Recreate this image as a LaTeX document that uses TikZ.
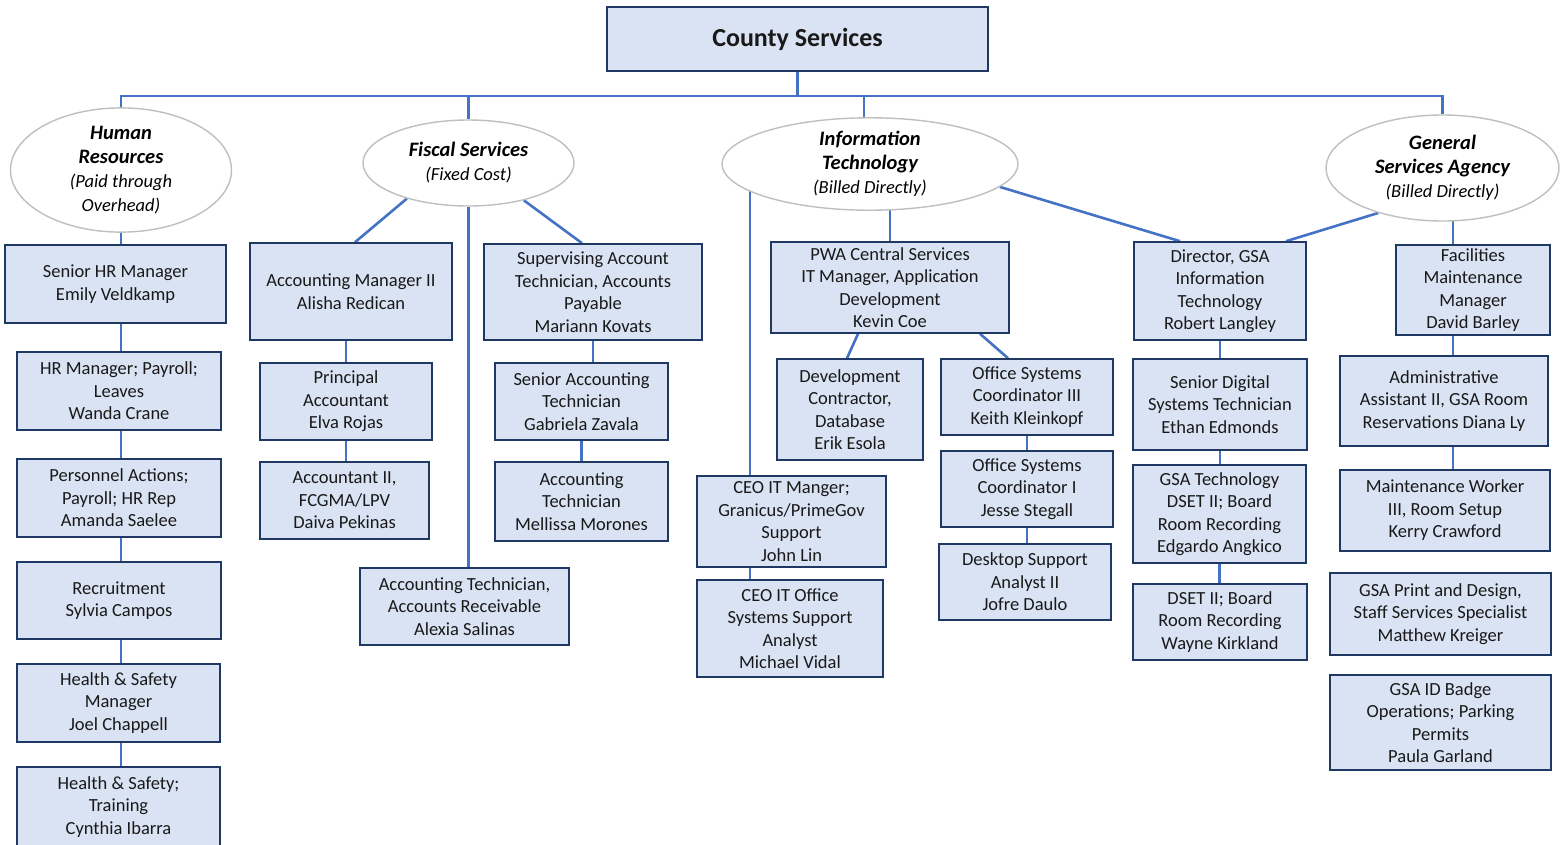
\documentclass[tikz,border=0pt]{standalone}
\usepackage{fontspec}
\setmainfont{Carlito}
\usetikzlibrary{shapes.geometric, positioning, calc, backgrounds}

\definecolor{linkblue}{HTML}{4472C4}
\definecolor{boxedge}{HTML}{203864}
\definecolor{boxfill}{HTML}{DAE3F3}
\definecolor{ovaledge}{HTML}{BFBFBF}

\tikzset{
  postbox/.style={draw=boxedge, fill=boxfill, line width=1.6pt, align=center,
    inner sep=0pt, text=black!90, font=\fontsize{18.5}{22.5}\selectfont},
  wh/.style 2 args={minimum width=#1pt, minimum height=#2pt},
  unitoval/.style={ellipse, draw=ovaledge, fill=white, line width=1.4pt, align=center,
    inner sep=0pt, font=\fontsize{18.5}{24}\selectfont},
  link/.style={draw=linkblue, line width=2.6pt}
}
\newcommand{\unitname}[1]{{\bfseries\itshape\fontsize{20.5}{25}\selectfont #1}}

\begin{document}
\begin{tikzpicture}[x=1pt,y=-1pt]
\useasboundingbox (0,0) rectangle (1562,844);

% Top of the chart
\node[postbox, wh={381}{64}, font=\bfseries\fontsize{26}{30}\selectfont] (county) at (797.5,39) {County Services};

% Units
\node[unitoval, wh={221}{100}] (hr) at (121,170) {\unitname{Human}\\\unitname{Resources}\\\textit{(Paid through}\\\textit{Overhead)}};
\node[unitoval, wh={211}{86}] (fisc) at (468.5,163) {\unitname{Fiscal Services}\\\textit{(Fixed Cost)}};
\node[unitoval, wh={296}{92}] (it) at (870,164) {\unitname{Information}\\\unitname{Technology}\\\textit{(Billed Directly)}};
\node[unitoval, wh={233}{106}] (gsa) at (1442.5,168) {\unitname{General}\\\unitname{Services Agency}\\\textit{(Billed Directly)}};

% Human Resources
\node[postbox, wh={221}{78}] (hr1) at (115.5,284) {Senior HR Manager\\Emily Veldkamp};
\node[postbox, wh={204}{78}] (hr2) at (119,391) {HR Manager; Payroll;\\Leaves\\Wanda Crane};
\node[postbox, wh={204}{78}] (hr3) at (119,498) {Personnel Actions;\\Payroll; HR Rep\\Amanda Saelee};
\node[postbox, wh={204}{77}] (hr4) at (119,600.5) {Recruitment\\Sylvia Campos};
\node[postbox, wh={203}{78}] (hr5) at (118.5,703) {Health \& Safety\\Manager\\Joel Chappell};
\node[postbox, wh={203}{80}] (hr6) at (118.5,807) {Health \& Safety;\\Training\\Cynthia Ibarra};

% Fiscal Services
\node[postbox, wh={202}{97}] (fs1) at (351,291.5) {Accounting Manager II\\Alisha Redican};
\node[postbox, wh={172}{77}] (fs2) at (346,401.5) {Principal\\Accountant\\Elva Rojas};
\node[postbox, wh={169}{77}] (fs3) at (344.5,500.5) {Accountant II,\\FCGMA/LPV\\Daiva Pekinas};
\node[postbox, wh={218}{96}] (fs4) at (593,292) {Supervising Account\\Technician, Accounts\\Payable\\Mariann Kovats};
\node[postbox, wh={173}{77}] (fs5) at (581.5,401.5) {Senior Accounting\\Technician\\Gabriela Zavala};
\node[postbox, wh={173}{79}] (fs6) at (581.5,501.5) {Accounting\\Technician\\Mellissa Morones};
\node[postbox, wh={209}{77}] (fs7) at (464.5,606.5) {Accounting Technician,\\Accounts Receivable\\Alexia Salinas};

% Information Technology
\node[postbox, wh={189}{91}] (ceo1) at (791.5,521.5) {CEO IT Manger;\\Granicus/PrimeGov\\Support\\John Lin};
\node[postbox, wh={186}{97}] (ceo2) at (790,628.5) {CEO IT Office\\Systems Support\\Analyst\\Michael Vidal};
\node[postbox, wh={238}{91}] (pwa) at (890,287.5) {PWA Central Services\\IT Manager, Application\\Development\\Kevin Coe};
\node[postbox, wh={146}{101}] (devc) at (850,409.5) {Development\\Contractor,\\Database\\Erik Esola};
\node[postbox, wh={172}{76}] (osc3) at (1027,397) {Office Systems\\Coordinator III\\Keith Kleinkopf};
\node[postbox, wh={172}{76}] (osc1) at (1027,489) {Office Systems\\Coordinator I\\Jesse Stegall};
\node[postbox, wh={172}{76}] (desk) at (1025,582) {Desktop Support\\Analyst II\\Jofre Daulo};

% General Services Agency
\node[postbox, wh={172}{98}] (dir) at (1220,291) {Director, GSA\\Information\\Technology\\Robert Langley};
\node[postbox, wh={174}{91}] (sds) at (1220,404.5) {Senior Digital\\Systems Technician\\Ethan Edmonds};
\node[postbox, wh={173}{98}] (gtech) at (1219.5,514) {GSA Technology\\DSET II; Board\\Room Recording\\Edgardo Angkico};
\node[postbox, wh={174}{76}] (dset) at (1220,622) {DSET II; Board\\Room Recording\\Wayne Kirkland};
\node[postbox, wh={154}{90}] (fac) at (1473,290) {Facilities\\Maintenance\\Manager\\David Barley};
\node[postbox, wh={208}{90}] (admin) at (1444,401) {Administrative\\Assistant II, GSA Room\\Reservations Diana Ly};
\node[postbox, wh={210}{81}] (maint) at (1445,510.5) {Maintenance Worker\\III, Room Setup\\Kerry Crawford};
\node[postbox, wh={221}{82}] (print) at (1440.5,614) {GSA Print and Design,\\Staff Services Specialist\\Matthew Kreiger};
\node[postbox, wh={221}{95}] (badge) at (1440.5,722.5) {GSA ID Badge\\Operations; Parking\\Permits\\Paula Garland};

% Connectors
\begin{scope}[on background layer]
\coordinate (bus) at (798,96);
\draw[link] (county.south) -- (county.south |- bus);
\draw[link] (hr.north) -- (hr.north |- bus) -- (gsa.north |- bus) -- (gsa.north);
\draw[link] (fisc.north) -- (fisc.north |- bus);
\draw[link] ($(it.north)+(-6,0)$) -- ($(it.north |- bus)+(-6,0)$);

% HR chain
\draw[link] (hr.south) -- (hr.south |- hr1.north);
\foreach \a/\b in {hr1/hr2, hr2/hr3, hr3/hr4, hr4/hr5, hr5/hr6}
    \draw[link] (hr.south |- \a.south) -- (hr.south |- \b.north);

% Fiscal chain
\draw[link] (fisc.210) -- ($(fs1.north)+(4,0)$);
\draw[link] (fisc.326) -- ($(fs4.north)+(-11,0)$);
\draw[link] (fisc.south) -- (fisc.south |- fs7.north);
\draw[link] (fs2.north |- fs1.south) -- (fs2.north);
\draw[link] (fs2.south) -- (fs2.south |- fs3.north);
\draw[link] (fs4.south) -- (fs4.south |- fs5.north);
\draw[link] (fs5.south) -- (fs6.north);

% IT chain
\coordinate (itdrop) at (750,164);
\draw[link] (itdrop) -- (itdrop |- ceo1.north);
\draw[link] (itdrop |- ceo1.south) -- (itdrop |- ceo2.north);
\draw[link] (pwa.north |- it.center) -- (pwa.north);
\draw[link] ($(pwa.south)+(-32,0)$) -- ($(devc.north)+(-3,0)$);
\draw[link] ($(pwa.south)+(90,0)$) -- ($(osc3.north)+(-19,0)$);
\draw[link] (osc3.south) -- (osc1.north);
\draw[link] (osc1.south) -- (osc1.south |- desk.north);
\draw[link] (it.350) -- ($(dir.north)+(-40,0)$);

% GSA chain
\draw[link] (gsa.215) -- ($(dir.north)+(66,0)$);
\foreach \a/\b in {dir/sds, sds/gtech, gtech/dset}
    \draw[link] (\a.south) -- (\a.south |- \b.north);
\coordinate (gsadrop) at (1453,168);
\draw[link] (gsadrop) -- (gsadrop |- fac.north);
\foreach \a/\b in {fac/admin, admin/maint}
    \draw[link] (gsadrop |- \a.south) -- (gsadrop |- \b.north);
\end{scope}
\end{tikzpicture}
\end{document}
